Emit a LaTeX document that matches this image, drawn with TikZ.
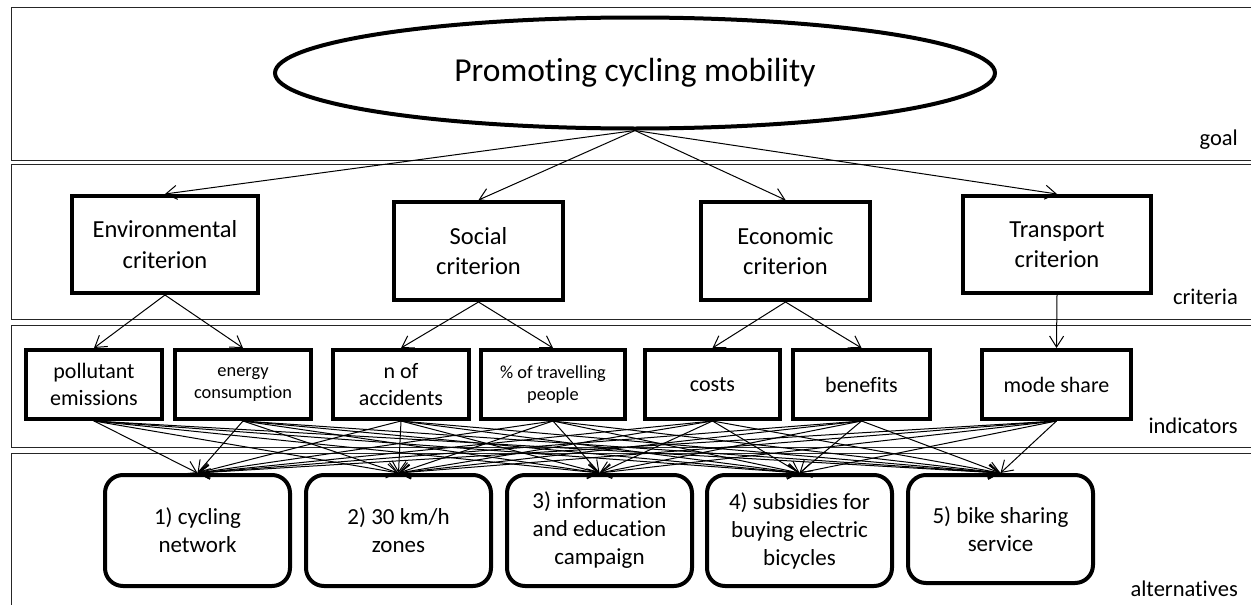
\documentclass[tikz,border=0pt]{standalone}
\usepackage{fontspec}
\setmainfont{Carlito}[Ligatures=NoCommon]
\usetikzlibrary{shapes.geometric,arrows.meta}
\begin{document}
\begin{tikzpicture}[x=1pt,y=-1pt,
  band/.style={draw=black!85,line width=1pt},
  goalnode/.style={ellipse,draw,line width=4pt,minimum width=720pt,minimum height=111pt,inner sep=0pt,font=\fontsize{33.5}{40}\selectfont},
  crit/.style={draw,line width=4pt,align=center,inner sep=0pt,font=\fontsize{24.5}{30.5}\selectfont},
  ind/.style={draw,line width=4pt,align=center,inner sep=0pt,minimum height=69pt,font=\fontsize{22}{27}\selectfont},
  smallind/.style={ind,font=\fontsize{18.4}{22.5}\selectfont},
  alt/.style={draw,line width=4pt,rounded corners=18pt,align=center,inner sep=0pt,minimum width=185pt,font=\fontsize{23}{28}\selectfont},
  lay/.style={anchor=base east,inner sep=0pt,font=\fontsize{22.5}{27}\selectfont},
  link/.style={line width=1pt,-{Straight Barb[length=11pt,width=14pt]}}
]
\useasboundingbox (0,0) rectangle (1251,605);
\clip (0,0) rectangle (1251,605);
% bands
\draw[band] (11,7) rectangle (1270,160);
\draw[band] (11,164) rectangle (1270,319);
\draw[band] (11,325) rectangle (1270,447);
\draw[band] (11,453) rectangle (1270,625);
% layer labels
\node[lay] (lgoal) at (1238,145) {goal};
\node[lay] (lcrit) at (1238,304) {criteria};
\node[lay] (lind) at (1238,433) {indicators};
\node[lay] (lalt) at (1238,596) {alternatives};
% goal
\node[goalnode] (goal) at (635,73) {Promoting cycling mobility};
% criteria
\node[crit,minimum width=186pt,minimum height=97pt] (env) at (165,244.5) {Environmental\\criterion};
\node[crit,minimum width=169pt,minimum height=98pt] (soc) at (478.5,251) {Social\\criterion};
\node[crit,minimum width=169pt,minimum height=98pt] (eco) at (785.5,251) {Economic\\criterion};
\node[crit,minimum width=188pt,minimum height=97pt] (tra) at (1057,244.5) {Transport\\criterion};
% indicators
\node[ind,minimum width=136pt] (poll) at (94,384.5) {pollutant\\emissions};
\node[smallind,minimum width=136pt] (energy) at (243,384.5) {energy\\consumption};
\node[ind,minimum width=136pt] (nacc) at (401,384.5) {n of\\accidents};
\node[smallind,minimum width=144pt] (perc) at (553,384.5) {\% of travelling\\people};
\node[ind,minimum width=135pt] (costs) at (712.5,384.5) {costs};
\node[ind,minimum width=137pt] (ben) at (861.5,384.5) {benefits};
\node[ind,minimum width=149pt] (mode) at (1056.5,384.5) {mode share};
% alternatives
\node[alt,minimum height=111pt] (a1) at (197.5,530.5) {1) cycling\\network};
\node[alt,minimum height=111pt] (a2) at (398.5,530.5) {2) 30 km/h\\zones};
\node[alt,minimum height=111pt] (a3) at (599.5,530.5) {3) information\\and education\\campaign};
\node[alt,minimum height=111pt] (a4) at (799.5,530.5) {4) subsidies for\\buying electric\\bicycles};
\node[alt,minimum height=108pt] (a5) at (1000.5,529) {5) bike sharing\\service};
% links goal -> criteria
\foreach \c in {env,soc,eco,tra} \draw[link] (goal.south) -- (\c.north);
% criteria -> indicators
\draw[link] (env.south) -- (poll.north);
\draw[link] (env.south) -- (energy.north);
\draw[link] (soc.south) -- (nacc.north);
\draw[link] (soc.south) -- (perc.north);
\draw[link] (eco.south) -- (costs.north);
\draw[link] (eco.south) -- (ben.north);
\draw[link] (tra.south) -- (mode.north);
% indicators -> alternatives
\foreach \i in {poll,energy,nacc,perc,costs,ben,mode}
  \foreach \a in {a1,a2,a3,a4,a5}
    \draw[link] (\i.south) -- (\a.north);
\end{tikzpicture}
\end{document}
